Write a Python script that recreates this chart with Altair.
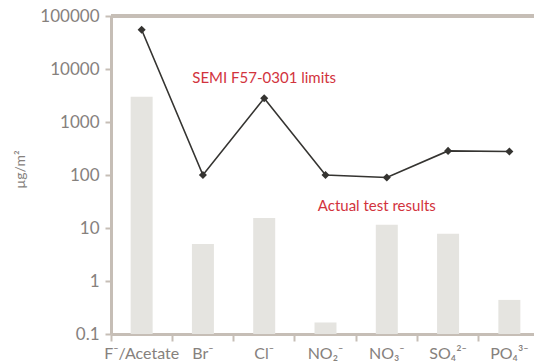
import altair as alt
import pandas as pd

# Ion species on the x axis
ions = ["F⁻/Acetate", "Br⁻", "Cl⁻", "NO₂⁻", "NO₃⁻", "SO₄²⁻", "PO₄³⁻"]
# Measured contamination (µg/m²)
actual = [3000, 5, 15.5, 0.165, 11.5, 7.8, 0.44]
# SEMI F57-0301 limits (µg/m²)
limits = [55000, 100, 2800, 100, 90, 285, 278]

df = pd.DataFrame({"ion": ions, "actual": actual, "limit": limits})

FONT = "Lato"
GRAY_TXT = "#86817d"
AXIS_COL = "#c6beb6"
RED = "#d2333d"

x_enc = alt.X(
    "ion:N",
    sort=ions,
    scale=alt.Scale(range=[0, 429], paddingInner=0, paddingOuter=0),
    axis=alt.Axis(
        title=None,
        labelAngle=0,
        labelFont=FONT,
        labelFontSize=16,
        labelColor=GRAY_TXT,
        labelPadding=4,
        bandPosition=0,
        tickSize=7,
        tickWidth=2,
        tickColor=AXIS_COL,
        domainColor=AXIS_COL,
        domainWidth=3,
        grid=False,
    ),
)

y_scale = alt.Scale(type="log", domain=[0.1, 100000])
y_axis = alt.Axis(
    title="µg/m²",
    titleFont=FONT,
    titleFontSize=14,
    titleFontWeight="normal",
    titleColor=GRAY_TXT,
    titleX=-91,
    titleY=153,
    titleAngle=-90,
    titleAlign="center",
    titleBaseline="middle",
    values=[0.1, 1, 10, 100, 1000, 10000, 100000],
    labelExpr="datum.value < 1 ? '0.1' : format(datum.value, 'd')",
    labelFont=FONT,
    labelFontSize=17,
    labelColor=GRAY_TXT,
    labelPadding=6,
    tickSize=6,
    tickWidth=2,
    tickColor=AXIS_COL,
    domainColor=AXIS_COL,
    domainWidth=3,
    grid=False,
)

base = alt.Chart(df)

bars = base.mark_bar(color="#e5e4e0", size=22).encode(
    x=x_enc,
    y=alt.Y("actual:Q", scale=y_scale, axis=y_axis),
    y2=alt.datum(0.1),
)

line = base.mark_line(color="#353431", strokeWidth=1.6).encode(
    x=alt.X("ion:N", sort=ions),
    y=alt.Y("limit:Q"),
)

points = base.mark_point(
    shape="diamond", filled=True, color="#353431", size=65, opacity=1
).encode(
    x=alt.X("ion:N", sort=ions),
    y=alt.Y("limit:Q"),
)

top_rule = alt.Chart(df).mark_rule(color=AXIS_COL, strokeWidth=3).encode(
    y=alt.datum(100000)
)

notes = pd.DataFrame(
    {
        "ion": ["Cl⁻", "NO₃⁻"],
        "val": [5500, 20.5],
        "text": ["SEMI F57-0301 limits", "Actual test results"],
    }
)
labels_semi = alt.Chart(notes.iloc[[0]]).mark_text(
    font=FONT, fontSize=15, color=RED, baseline="alphabetic", align="center"
).encode(x=alt.X("ion:N", sort=ions), y=alt.Y("val:Q"), text="text:N")
labels_act = alt.Chart(notes.iloc[[1]]).mark_text(
    font=FONT, fontSize=15, color=RED, baseline="alphabetic", align="center", dx=-10
).encode(x=alt.X("ion:N", sort=ions), y=alt.Y("val:Q"), text="text:N")

chart = (
    alt.layer(bars, top_rule, line, points, labels_semi, labels_act)
    .properties(
        width=423,
        height=318,
        autosize=alt.AutoSizeParams(type="none"),
        padding={"left": 111, "top": 16, "right": 0, "bottom": 28},
    )
    .configure_view(stroke=None)
)

chart.save("out.html", embed_options={"renderer": "svg", "actions": False})
